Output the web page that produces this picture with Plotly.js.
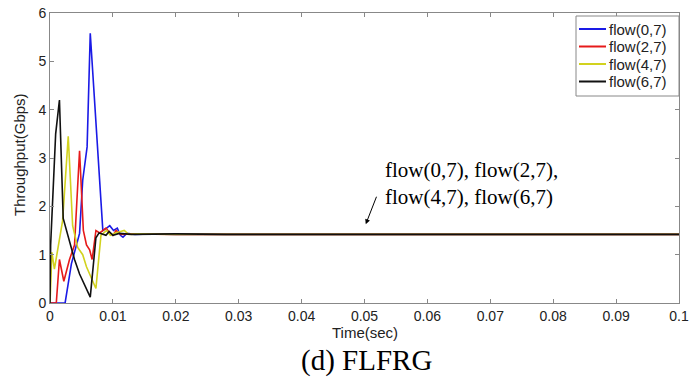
<!DOCTYPE html>
<html><head><meta charset="utf-8">
<script src="https://cdn.plot.ly/plotly-3.0.1.min.js"></script>
<style>body{margin:0;background:#fff}#c{width:693px;height:379px}</style>
</head><body><div id="c"></div>
<script>
const seriesNames = ["flow(0,7)", "flow(2,7)", "flow(4,7)", "flow(6,7)"];
const seriesColors = ["#1a1ae6", "#e61a1a", "#d2d21e", "#111111"];

const flow07X = [0, 0.0024, 0.0034, 0.0047, 0.0052, 0.0059, 0.0064, 0.0072, 0.0079, 0.0084, 0.0090, 0.0095, 0.0101, 0.0107, 0.0112, 0.0116, 0.0122, 0.0135, 0.0160, 0.0200, 0.0300, 0.1000];
const flow07Y = [0, 0, 0.81, 1.44, 2.54, 3.23, 5.58, 3.9, 2.4, 1.5, 1.55, 1.6, 1.5, 1.55, 1.4, 1.36, 1.44, 1.42, 1.43, 1.42, 1.42, 1.42];

const flow27X = [0, 0.0010, 0.0015, 0.0022, 0.0031, 0.0039, 0.0047, 0.0053, 0.0058, 0.0063, 0.0067, 0.0073, 0.0079, 0.0084, 0.0089, 0.0095, 0.0100, 0.0105, 0.0112, 0.0130, 0.0200, 0.1000];
const flow27Y = [0, 0, 0.9, 0.45, 0.9, 1.2, 3.15, 1.5, 1.2, 1.1, 0.9, 1.5, 1.45, 1.5, 1.55, 1.45, 1.4, 1.5, 1.42, 1.43, 1.42, 1.42];

const flow47X = [0, 0.0003, 0.0007, 0.0011, 0.0020, 0.0029, 0.0036, 0.0044, 0.0052, 0.0058, 0.0065, 0.0073, 0.0081, 0.0090, 0.0096, 0.0104, 0.0118, 0.0125, 0.0140, 0.0200, 0.1000];
const flow47Y = [0, 1.05, 0.7, 1.0, 1.7, 3.45, 1.6, 1.15, 1.0, 0.75, 0.55, 0.3, 1.4, 1.5, 1.4, 1.45, 1.5, 1.42, 1.43, 1.42, 1.42];

const flow67X = [0, 0.0001, 0.0009, 0.0015, 0.0021, 0.0031, 0.0039, 0.0047, 0.0057, 0.0064, 0.0073, 0.0078, 0.0089, 0.0094, 0.0100, 0.0110, 0.0130, 0.0200, 0.0280, 0.1000];
const flow67Y = [0, 1.2, 3.5, 4.2, 1.75, 1.3, 0.9, 0.6, 0.3, 0.12, 1.35, 1.45, 1.4, 1.48, 1.4, 1.44, 1.42, 1.43, 1.42, 1.42];

const xTicks = [0, 0.01, 0.02, 0.03, 0.04, 0.05, 0.06, 0.07, 0.08, 0.09, 0.1];
const xTickText = ["0", "0.01", "0.02", "0.03", "0.04", "0.05", "0.06", "0.07", "0.08", "0.09", "0.1"];
const yTicks = [0, 1, 2, 3, 4, 5, 6];

const xs = [flow07X, flow27X, flow47X, flow67X];
const ys = [flow07Y, flow27Y, flow47Y, flow67Y];

const traces = seriesNames.map((n, i) => ({
  x: xs[i], y: ys[i], name: n, type: "scatter", mode: "lines",
  line: {color: seriesColors[i], width: 1.6}, showlegend: false
}));

// plot area in pixels: x 50..679, y 13..303
const PL = 50, PW = 629, PT = 13, PH = 290;
const px = v => (v - PL) / PW;
const py = v => (PT + PH - v) / PH;

const sans = "Liberation Sans, Arial";
const serif = "Liberation Serif, Times New Roman";

const axisCommon = {
  showline: true, linecolor: "#888", linewidth: 1, mirror: "ticks",
  ticks: "inside", ticklen: 4, tickcolor: "#888", showgrid: false, zeroline: false,
  tickfont: {family: sans, size: 14, color: "#222"}
};

// custom legend (box, sample lines, labels)
const shapes = [{
  type: "rect", xref: "paper", yref: "paper",
  x0: px(576), x1: px(679), y0: py(96), y1: py(16),
  fillcolor: "#fff", line: {color: "#888", width: 1}, layer: "above"
}];
const annotations = [];
const legY = [29, 46.5, 64, 81.5];
seriesNames.forEach((n, i) => {
  shapes.push({type: "line", xref: "paper", yref: "paper",
    x0: px(579), x1: px(606), y0: py(legY[i]), y1: py(legY[i]),
    line: {color: seriesColors[i], width: 2}, layer: "above"});
  annotations.push({xref: "paper", yref: "paper", x: px(607), y: py(legY[i]),
    xanchor: "left", yanchor: "middle", text: n, showarrow: false,
    font: {family: sans, size: 15, color: "#222"}});
});

annotations.push(
  {xref: "paper", yref: "paper", x: px(365), y: py(332), xanchor: "center", yanchor: "middle",
   text: "Time(sec)", showarrow: false, font: {family: sans, size: 15, color: "#222"}},
  {xref: "paper", yref: "paper", x: px(19), y: py(155), xanchor: "center", yanchor: "middle",
   text: "Throughput(Gbps)", textangle: -90, showarrow: false, font: {family: sans, size: 15, color: "#222"}},
  {xref: "paper", yref: "paper", x: px(367), y: py(360), xanchor: "center", yanchor: "middle",
   text: "(d) FLFRG", showarrow: false, font: {family: serif, size: 29, color: "#000"}},
  {xref: "x", yref: "y", x: 0.0530, y: 2.48, xanchor: "left", yanchor: "middle", align: "left",
   text: "flow(0,7), flow(2,7),<br>flow(4,7), flow(6,7)", showarrow: false,
   font: {family: serif, size: 21, color: "#000"}},
  {xref: "x", yref: "y", x: 0.0502, y: 1.63, ax: 0.0520, ay: 2.23, axref: "x", ayref: "y",
   text: "", showarrow: true, arrowhead: 2, arrowsize: 1, arrowwidth: 1, arrowcolor: "#000"}
);

const layout = {
  width: 693, height: 379,
  margin: {l: 50, r: 14, t: 13, b: 76},
  paper_bgcolor: "#fff", plot_bgcolor: "#fff",
  showlegend: false,
  xaxis: Object.assign({}, axisCommon, {range: [0, 0.1], tickvals: xTicks, ticktext: xTickText, ticklabelstandoff: 0}),
  yaxis: Object.assign({}, axisCommon, {range: [0, 6], tickvals: yTicks}),
  shapes: shapes,
  annotations: annotations
};

Plotly.newPlot("c", traces, layout, {displayModeBar: false, staticPlot: true});
</script></body></html>
